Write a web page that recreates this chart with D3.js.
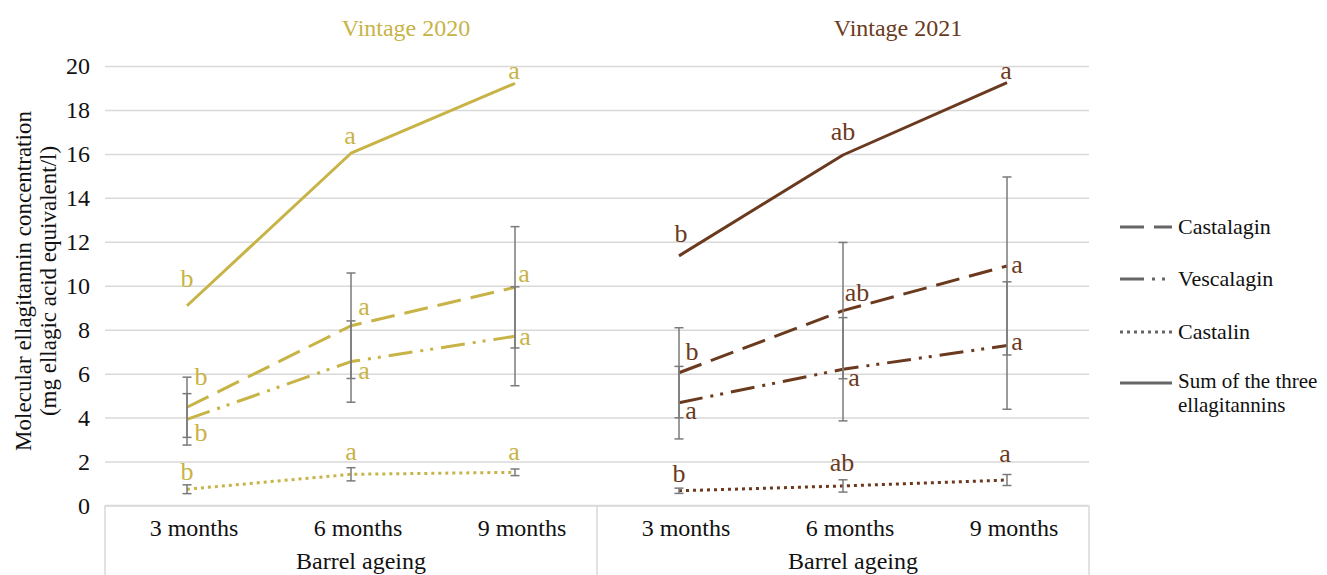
<!DOCTYPE html>
<html>
<head>
<meta charset="utf-8">
<script src="https://cdn.jsdelivr.net/npm/d3@7"></script>
<style>
  html, body { margin: 0; padding: 0; background: #fff; }
  svg { display: block; font-family: "Liberation Serif", "Times New Roman", serif; }
</style>
</head>
<body>
<svg id="chart" width="1327" height="575"></svg>
<script>
// ---- data ----------------------------------------------------------------
const months = ["3 months", "6 months", "9 months"];
const vintages = ["Vintage 2020", "Vintage 2021"];
const yTicks = [0, 2, 4, 6, 8, 10, 12, 14, 16, 18, 20];
const compounds = ["Castalagin", "Vescalagin", "Castalin", "Sum of the three ellagitannins"];

// Vintage 2020 (mg ellagic acid equivalent/l)
const castalagin2020 = [4.47, 8.18, 9.93];
const castalagin2020Err = [1.37, 2.40, 2.76];
const vescalagin2020 = [3.92, 6.55, 7.70];
const vescalagin2020Err = [1.17, 1.85, 2.25];
const castalin2020 = [0.74, 1.42, 1.51];
const castalin2020Err = [0.20, 0.30, 0.15];
const sum2020 = [9.09, 16.03, 19.21];

// Vintage 2021
const castalagin2021 = [6.04, 8.87, 10.90];
const castalagin2021Err = [2.05, 3.10, 4.05];
const vescalagin2021 = [4.68, 6.20, 7.28];
const vescalagin2021Err = [1.65, 2.35, 2.90];
const castalin2021 = [0.67, 0.89, 1.16];
const castalin2021Err = [0.12, 0.28, 0.25];
const sum2021 = [11.36, 15.95, 19.24];

// Significance letters
const castalagin2020Sig = ["b", "a", "a"];
const vescalagin2020Sig = ["b", "a", "a"];
const castalin2020Sig = ["b", "a", "a"];
const sum2020Sig = ["b", "a", "a"];
const castalagin2021Sig = ["b", "ab", "a"];
const vescalagin2021Sig = ["a", "a", "a"];
const castalin2021Sig = ["b", "ab", "a"];
const sum2021Sig = ["b", "ab", "a"];

// ---- layout & style ------------------------------------------------------
const gold = "#c8b347";
const brown = "#6b3a1e";
const gridColor = "#d9d9d9";
const errColor = "#7a7a7a";
const plotLeft = 105, plotRight = 1089, plotTop = 66, plotBottom = 505.5;

const lineStyles = {
  Castalagin: { dash: "24,10", width: 3 },
  Vescalagin: { dash: "24,8,3,7,3,8", width: 3 },
  Castalin: { dash: "3,4", width: 3 },
  "Sum of the three ellagitannins": { dash: null, width: 3 }
};

// letter label nudges (px, relative to the point; text centered, baseline at y)
const labelNudge = {
  "2020": {
    Castalagin: [[14, -22], [13, -11], [9, -5]],
    Vescalagin: [[14, 22], [13, 17], [10, 9]],
    Castalin: [[0, -9], [0, -14], [-1, -12]],
    "Sum of the three ellagitannins": [[0, -19], [-1, -9], [-1, -4]]
  },
  "2021": {
    Castalagin: [[13, -13], [14, -10], [10, 7]],
    Vescalagin: [[12, 16], [11, 17], [10, 4]],
    Castalin: [[0, -9], [-1, -15], [-2, -18]],
    "Sum of the three ellagitannins": [[2, -14], [0, -15], [-1, -4]]
  }
};

const panels = [
  {
    key: "2020", title: vintages[0], color: gold, x0: plotLeft, x1: 597,
    series: [
      { name: compounds[0], values: castalagin2020, err: castalagin2020Err, sig: castalagin2020Sig },
      { name: compounds[1], values: vescalagin2020, err: vescalagin2020Err, sig: vescalagin2020Sig },
      { name: compounds[2], values: castalin2020, err: castalin2020Err, sig: castalin2020Sig },
      { name: compounds[3], values: sum2020, err: null, sig: sum2020Sig }
    ]
  },
  {
    key: "2021", title: vintages[1], color: brown, x0: 597, x1: plotRight,
    series: [
      { name: compounds[0], values: castalagin2021, err: castalagin2021Err, sig: castalagin2021Sig },
      { name: compounds[1], values: vescalagin2021, err: vescalagin2021Err, sig: vescalagin2021Sig },
      { name: compounds[2], values: castalin2021, err: castalin2021Err, sig: castalin2021Sig },
      { name: compounds[3], values: sum2021, err: null, sig: sum2021Sig }
    ]
  }
];

// ---- drawing -------------------------------------------------------------
const svg = d3.select("#chart");
svg.append("rect").attr("width", 1327).attr("height", 575).attr("fill", "#fff");

const y = d3.scaleLinear().domain([0, 20]).range([plotBottom, plotTop]);

// horizontal gridlines
const grid = svg.append("g")
  .attr("transform", `translate(${plotLeft},0)`)
  .call(d3.axisLeft(y).tickValues(yTicks).tickSize(-(plotRight - plotLeft)).tickFormat(""));
grid.select(".domain").remove();
grid.selectAll("line").attr("stroke", gridColor).attr("stroke-width", 1.5);

// y tick labels
const yAxis = svg.append("g")
  .attr("transform", `translate(${plotLeft},0)`)
  .call(d3.axisLeft(y).tickValues(yTicks).tickSize(0).tickPadding(15));
yAxis.select(".domain").remove();
yAxis.selectAll("text")
  .attr("font-family", "Liberation Serif, serif")
  .attr("font-size", 24)
  .attr("fill", "#111");

// y axis title
const yTitle = svg.append("text")
  .attr("transform", "translate(0,281) rotate(-90)")
  .attr("text-anchor", "middle")
  .attr("font-size", 23)
  .attr("fill", "#111");
yTitle.append("tspan").attr("x", 0).attr("y", 31).text("Molecular ellagitannin concentration");
yTitle.append("tspan").attr("x", 0).attr("y", 56).text("(mg ellagic acid equivalent/l)");

// category box lines below the plot
svg.append("line")
  .attr("x1", plotLeft).attr("x2", plotRight)
  .attr("y1", plotBottom).attr("y2", plotBottom)
  .attr("stroke", gridColor).attr("stroke-width", 1.5);
[plotLeft, 597, plotRight].forEach(xv => {
  svg.append("line")
    .attr("x1", xv).attr("x2", xv)
    .attr("y1", plotBottom).attr("y2", 575)
    .attr("stroke", gridColor).attr("stroke-width", 1.5);
});

panels.forEach(panel => {
  const x = d3.scaleBand().domain(months).range([panel.x0, panel.x1]);
  const cx = m => x(m) + x.bandwidth() / 2;
  const g = svg.append("g");

  // panel title
  g.append("text")
    .attr("x", (panel.x0 + panel.x1) / 2 + 55)
    .attr("y", 36)
    .attr("text-anchor", "middle")
    .attr("font-size", 24)
    .attr("fill", panel.color)
    .text(panel.title);

  // category labels
  const xAxis = g.append("g")
    .attr("transform", "translate(7,536)")
    .call(d3.axisBottom(x).tickSize(0).tickPadding(0));
  xAxis.select(".domain").remove();
  xAxis.selectAll("text")
    .attr("y", 0).attr("dy", null)
    .attr("font-family", "Liberation Serif, serif")
    .attr("font-size", 24)
    .attr("fill", "#111");

  g.append("text")
    .attr("x", (panel.x0 + panel.x1) / 2 + 10)
    .attr("y", 569)
    .attr("text-anchor", "middle")
    .attr("font-size", 24)
    .attr("fill", "#111")
    .text("Barrel ageing");

  const line = d3.line().x((d, i) => cx(months[i])).y(d => y(d));

  // lines
  panel.series.forEach(s => {
    const st = lineStyles[s.name];
    g.append("path")
      .datum(s.values)
      .attr("d", line)
      .attr("fill", "none")
      .attr("stroke", panel.color)
      .attr("stroke-width", st.width)
      .attr("stroke-linejoin", "round")
      .attr("stroke-dasharray", st.dash);
  });

  // error bars
  panel.series.filter(s => s.err).forEach(s => {
    s.values.forEach((v, i) => {
      const xv = cx(months[i]);
      const hi = y(v + s.err[i]), lo = y(v - s.err[i]);
      const eb = g.append("g").attr("stroke", errColor).attr("stroke-width", 1.5);
      eb.append("line").attr("x1", xv).attr("x2", xv).attr("y1", hi).attr("y2", lo);
      eb.append("line").attr("x1", xv - 4.5).attr("x2", xv + 4.5).attr("y1", hi).attr("y2", hi);
      eb.append("line").attr("x1", xv - 4.5).attr("x2", xv + 4.5).attr("y1", lo).attr("y2", lo);
    });
  });

  // significance letters
  panel.series.forEach(s => {
    const nudges = labelNudge[panel.key][s.name];
    s.values.forEach((v, i) => {
      const [dx, dy] = nudges[i];
      g.append("text")
        .attr("x", cx(months[i]) + dx)
        .attr("y", y(v) + dy)
        .attr("text-anchor", "middle")
        .attr("font-size", 26)
        .attr("fill", panel.color)
        .text(s.sig[i]);
    });
  });
});

// legend
const legend = svg.append("g");
const legendRows = [227, 279, 332, 383];
compounds.forEach((name, i) => {
  const st = lineStyles[name];
  const ly = legendRows[i];
  legend.append("line")
    .attr("x1", 1120).attr("x2", 1172)
    .attr("y1", ly).attr("y2", ly)
    .attr("stroke", "#666")
    .attr("stroke-width", st.width)
    .attr("stroke-dasharray", st.dash);
  if (name === compounds[3]) {
    // two-line entry
    legend.append("text")
      .attr("x", 1178).attr("y", ly + 5)
      .attr("font-size", 21).attr("fill", "#111")
      .text("Sum of the three");
    legend.append("text")
      .attr("x", 1178).attr("y", ly + 29)
      .attr("font-size", 21).attr("fill", "#111")
      .text("ellagitannins");
  } else {
    legend.append("text")
      .attr("x", 1178)
      .attr("y", ly + 7)
      .attr("font-size", 22)
      .attr("fill", "#111")
      .text(name);
  }
});
</script>
</body>
</html>
